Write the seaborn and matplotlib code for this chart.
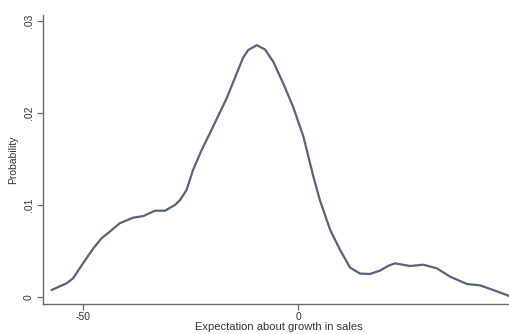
import matplotlib
matplotlib.use("Agg")
import matplotlib.pyplot as plt
import seaborn as sns
import pandas as pd

growth = [-57.2, -53.7, -52.2, -49.9, -47.5, -45.6, -43.7, -41.4, -38.3, -35.9,
          -33.2, -30.9, -28.6, -27.4, -25.9, -24.4, -22.4, -20.5, -16.6, -12.8,
          -11.6, -9.6, -7.7, -6.6, -5.8, -3.5, -1.2, 1.2, 3.5, 5.0,
          7.4, 9.7, 12.0, 14.3, 16.6, 18.9, 20.9, 22.4, 25.9, 29.0,
          32.1, 35.2, 39.1, 42.1, 45.2, 48.3, 49.1]
probability = [0.00076, 0.00149, 0.00203, 0.00366, 0.00529, 0.00638, 0.00710, 0.00801, 0.00862, 0.00880,
               0.00938, 0.00938, 0.01000, 0.01054, 0.01163, 0.01380, 0.01598, 0.01779, 0.02160, 0.02600,
               0.02685, 0.02737, 0.02690, 0.02612, 0.02558, 0.02323, 0.02068, 0.01742, 0.01308, 0.01054,
               0.00728, 0.00511, 0.00320, 0.00255, 0.00250, 0.00286, 0.00340, 0.00366, 0.00337, 0.00351,
               0.00312, 0.00221, 0.00141, 0.00127, 0.00076, 0.00022, 0.00003]
x_ticks = [-50, 0, 50]
x_ticklabels = ["-50", "0", "50"]
y_ticks = [0, 0.01, 0.02, 0.03]
y_ticklabels = ["0", ".01", ".02", ".03"]

df = pd.DataFrame({"growth": growth, "probability": probability})

sns.set_style("white")
plt.rcParams["font.family"] = ["Liberation Sans", "DejaVu Sans"]

fig = plt.figure(figsize=(5.10, 3.34), dpi=100)
W, H = 510, 334
left, right, top, bottom = 43.3, 514, 15, 304
ax = fig.add_axes([left / W, 1 - bottom / H, (right - left) / W, (bottom - top) / H])

sns.lineplot(data=df, x="growth", y="probability", ax=ax, color="#59637c",
             linewidth=1.6, estimator=None, sort=False,
             solid_joinstyle="round", solid_capstyle="round")

ax.set_xlim(-59.1, 50.0)
ax.set_ylim(-0.00076, 0.03065)
ax.set_xticks(x_ticks)
ax.set_xticklabels(x_ticklabels)
ax.set_yticks(y_ticks)
ax.set_yticklabels(y_ticklabels, rotation=90, va="center")

for s in ["top", "right"]:
    ax.spines[s].set_visible(False)
for s in ["left", "bottom"]:
    ax.spines[s].set_color("#6a6a6a")
    ax.spines[s].set_linewidth(1.0)

ax.tick_params(axis="both", which="major", direction="out", length=4, width=0.9,
               color="#6a6a6a", labelsize=7.5, labelcolor="#333333", pad=3,
               bottom=True, left=True)
ax.tick_params(axis="x", pad=2)

ax.set_xlabel("Expectation about growth in sales", fontsize=8, color="#333333", labelpad=0)
ax.set_ylabel("Probability", fontsize=7.5, color="#333333", labelpad=4)

fig.savefig("out.png", dpi=100)
